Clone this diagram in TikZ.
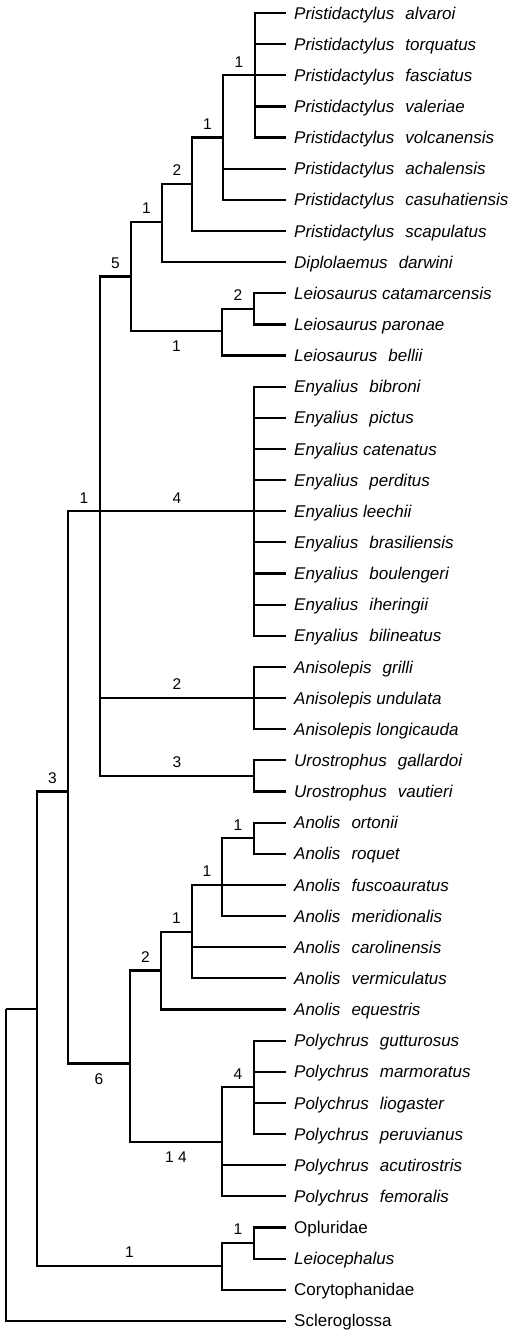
\documentclass[tikz,border=0pt]{standalone}
\usepackage{fontspec}
\setmainfont{Liberation Sans}
\usetikzlibrary{positioning}

\newcommand{\taxon}[2]{#1\hspace{0.65em}#2}

\begin{document}
\begin{tikzpicture}[x=1pt, y=-1pt]
        \tikzstyle{leaf} = [anchor=west, inner xsep=8pt, inner ysep=0pt, text height=12.2pt, text depth=0pt, font=\fontsize{17}{20}\selectfont\itshape]
        \tikzstyle{branch} = [line width=2.2pt]
        \tikzstyle{lbl} = [inner sep=0pt, font=\fontsize{15.5}{18}\selectfont]

        \useasboundingbox (0,0) rectangle (525,1330);

        % terminal taxa
        \node (alvaroi) [leaf] at (286,13) {\taxon{Pristidactylus}{alvaroi}};
        \node (torquatus) [below=31.14pt of alvaroi.west, leaf] {\taxon{Pristidactylus}{torquatus}};
        \node (fasciatus) [below=31.14pt of torquatus.west, leaf] {\taxon{Pristidactylus}{fasciatus}};
        \node (valeriae) [below=31.14pt of fasciatus.west, leaf] {\taxon{Pristidactylus}{valeriae}};
        \node (volcanensis) [below=31.14pt of valeriae.west, leaf] {\taxon{Pristidactylus}{volcanensis}};
        \node (achalensis) [below=31.14pt of volcanensis.west, leaf] {\taxon{Pristidactylus}{achalensis}};
        \node (casuhatiensis) [below=31.14pt of achalensis.west, leaf] {\taxon{Pristidactylus}{casuhatiensis}};
        \node (scapulatus) [below=31.14pt of casuhatiensis.west, leaf] {\taxon{Pristidactylus}{scapulatus}};
        \node (darwini) [below=31.14pt of scapulatus.west, leaf] {\taxon{Diplolaemus}{darwini}};
        \node (catamarcensis) [below=31.14pt of darwini.west, leaf] {Leiosaurus catamarcensis};
        \node (paronae) [below=31.14pt of catamarcensis.west, leaf] {Leiosaurus paronae};
        \node (bellii) [below=31.14pt of paronae.west, leaf] {\taxon{Leiosaurus}{bellii}};
        \node (bibroni) [below=31.14pt of bellii.west, leaf] {\taxon{Enyalius}{bibroni}};
        \node (pictus) [below=31.14pt of bibroni.west, leaf] {\taxon{Enyalius}{pictus}};
        \node (catenatus) [below=31.14pt of pictus.west, leaf] {Enyalius catenatus};
        \node (perditus) [below=31.14pt of catenatus.west, leaf] {\taxon{Enyalius}{perditus}};
        \node (leechii) [below=31.14pt of perditus.west, leaf] {Enyalius leechii};
        \node (brasiliensis) [below=31.14pt of leechii.west, leaf] {\taxon{Enyalius}{brasiliensis}};
        \node (boulengeri) [below=31.14pt of brasiliensis.west, leaf] {\taxon{Enyalius}{boulengeri}};
        \node (iheringii) [below=31.14pt of boulengeri.west, leaf] {\taxon{Enyalius}{iheringii}};
        \node (bilineatus) [below=31.14pt of iheringii.west, leaf] {\taxon{Enyalius}{bilineatus}};
        \node (grilli) [below=31.14pt of bilineatus.west, leaf] {\taxon{Anisolepis}{grilli}};
        \node (undulata) [below=31.14pt of grilli.west, leaf] {Anisolepis undulata};
        \node (longicauda) [below=31.14pt of undulata.west, leaf] {Anisolepis longicauda};
        \node (gallardoi) [below=31.14pt of longicauda.west, leaf] {\taxon{Urostrophus}{gallardoi}};
        \node (vautieri) [below=31.14pt of gallardoi.west, leaf] {\taxon{Urostrophus}{vautieri}};
        \node (ortonii) [below=31.14pt of vautieri.west, leaf] {\taxon{Anolis}{ortonii}};
        \node (roquet) [below=31.14pt of ortonii.west, leaf] {\taxon{Anolis}{roquet}};
        \node (fuscoauratus) [below=31.14pt of roquet.west, leaf] {\taxon{Anolis}{fuscoauratus}};
        \node (meridionalis) [below=31.14pt of fuscoauratus.west, leaf] {\taxon{Anolis}{meridionalis}};
        \node (carolinensis) [below=31.14pt of meridionalis.west, leaf] {\taxon{Anolis}{carolinensis}};
        \node (vermiculatus) [below=31.14pt of carolinensis.west, leaf] {\taxon{Anolis}{vermiculatus}};
        \node (equestris) [below=31.14pt of vermiculatus.west, leaf] {\taxon{Anolis}{equestris}};
        \node (gutturosus) [below=31.14pt of equestris.west, leaf] {\taxon{Polychrus}{gutturosus}};
        \node (marmoratus) [below=31.14pt of gutturosus.west, leaf] {\taxon{Polychrus}{marmoratus}};
        \node (liogaster) [below=31.14pt of marmoratus.west, leaf] {\taxon{Polychrus}{liogaster}};
        \node (peruvianus) [below=31.14pt of liogaster.west, leaf] {\taxon{Polychrus}{peruvianus}};
        \node (acutirostris) [below=31.14pt of peruvianus.west, leaf] {\taxon{Polychrus}{acutirostris}};
        \node (femoralis) [below=31.14pt of acutirostris.west, leaf] {\taxon{Polychrus}{femoralis}};
        \node (opluridae) [below=31.14pt of femoralis.west, leaf] {\upshape Opluridae};
        \node (leiocephalus) [below=31.14pt of opluridae.west, leaf] {Leiocephalus};
        \node (corytophanidae) [below=31.14pt of leiocephalus.west, leaf] {\upshape Corytophanidae};
        \node (scleroglossa) [below=31.14pt of corytophanidae.west, leaf] {\upshape Scleroglossa};

        % internal nodes
        \coordinate (pA) at (255,75.28);
        \coordinate (pB) at (223,137.56);
        \coordinate (pC) at (192,184);
        \coordinate (pD) at (162,222);
        \coordinate (leiA) at (254,308.8);
        \coordinate (leiB) at (222,331);
        \coordinate (pE) at (131,276.5);
        \coordinate (enA) at (254,511.24);
        \coordinate (aniA) at (254,698.08);
        \coordinate (uroA) at (254,775.9);
        \coordinate (polyP) at (100,511.24);
        \coordinate (anoA) at (254,838.2);
        \coordinate (anoB) at (222,884.92);
        \coordinate (anoC) at (192,931.6);
        \coordinate (anoD) at (161,970.5);
        \coordinate (polA) at (254,1087.3);
        \coordinate (polB) at (222,1141.8);
        \coordinate (iguA) at (130,1063.5);
        \coordinate (ingrp) at (68,791.5);
        \coordinate (oplA) at (254,1243);
        \coordinate (oplB) at (222,1266);
        \coordinate (clade3) at (37,1008.7);
        \coordinate (root) at (6,1008.7);

        % Pristidactylus, Diplolaemus, Leiosaurus
        \draw [branch] (pA) |- (alvaroi.west) (pA) |- (torquatus.west) (pA) |- (fasciatus.west) (pA) |- (valeriae.west) (pA) |- (volcanensis.west);
        \draw [branch] (pB) |- node[lbl, pos=0.75, above=7pt] {1} (pA) (pB) |- (achalensis.west) (pB) |- (casuhatiensis.west);
        \draw [branch] (pC) |- node[lbl, pos=0.75, above=7pt] {1} (pB) (pC) |- (scapulatus.west);
        \draw [branch] (pD) |- node[lbl, pos=0.75, above=7pt] {2} (pC) (pD) |- (darwini.west);
        \draw [branch] (leiA) |- (catamarcensis.west) (leiA) |- (paronae.west);
        \draw [branch] (leiB) |- node[lbl, pos=0.75, above=7pt] {2} (leiA) (leiB) |- (bellii.west);
        \draw [branch] (pE) |- node[lbl, pos=0.75, above=7pt] {1} (pD) (pE) |- node[lbl, pos=0.75, below=9pt] {1} (leiB);

        % Enyalius, Anisolepis, Urostrophus
        \draw [branch] (enA) |- (bibroni.west) (enA) |- (pictus.west) (enA) |- (catenatus.west) (enA) |- (perditus.west) (enA) |- (leechii.west) (enA) |- (brasiliensis.west) (enA) |- (boulengeri.west) (enA) |- (iheringii.west) (enA) |- (bilineatus.west);
        \draw [branch] (aniA) |- (grilli.west) (aniA) |- (undulata.west) (aniA) |- (longicauda.west);
        \draw [branch] (uroA) |- (gallardoi.west) (uroA) |- (vautieri.west);
        \draw [branch] (polyP) |- node[lbl, pos=0.75, above=7pt] {5} (pE) (polyP) |- node[lbl, pos=0.75, above=7pt] {4} (enA) (polyP) |- node[lbl, pos=0.75, above=7pt] {2} (aniA) (polyP) |- node[lbl, pos=0.75, above=7pt] {3} (uroA);

        % Anolis, Polychrus
        \draw [branch] (anoA) |- (ortonii.west) (anoA) |- (roquet.west);
        \draw [branch] (anoB) |- node[lbl, pos=0.75, above=7pt] {1} (anoA) (anoB) |- (fuscoauratus.west) (anoB) |- (meridionalis.west);
        \draw [branch] (anoC) |- node[lbl, pos=0.75, above=7pt] {1} (anoB) (anoC) |- (carolinensis.west) (anoC) |- (vermiculatus.west);
        \draw [branch] (anoD) |- node[lbl, pos=0.75, above=7pt] {1} (anoC) (anoD) |- (equestris.west);
        \draw [branch] (polA) |- (gutturosus.west) (polA) |- (marmoratus.west) (polA) |- (liogaster.west) (polA) |- (peruvianus.west);
        \draw [branch] (polB) |- node[lbl, pos=0.75, above=7pt] {4} (polA) (polB) |- (acutirostris.west) (polB) |- (femoralis.west);
        \draw [branch] (iguA) |- node[lbl, pos=0.75, above=7pt] {2} (anoD) (iguA) |- node[lbl, pos=0.75, below=9pt] {1 4} (polB);
        \draw [branch] (ingrp) |- node[lbl, pos=0.75, above=7pt] {1} (polyP) (ingrp) |- node[lbl, pos=0.75, below=9pt] {6} (iguA);

        % outgroups
        \draw [branch] (oplA) |- (opluridae.west) (oplA) |- (leiocephalus.west);
        \draw [branch] (oplB) |- node[lbl, pos=0.75, above=7pt] {1} (oplA) (oplB) |- (corytophanidae.west);
        \draw [branch] (clade3) |- node[lbl, pos=0.75, above=7pt] {3} (ingrp) (clade3) |- node[lbl, pos=0.75, above=7pt] {1} (oplB);
        \draw [branch] (root) |- (clade3) (root) |- (scleroglossa.west);
    \end{tikzpicture}
\end{document}
